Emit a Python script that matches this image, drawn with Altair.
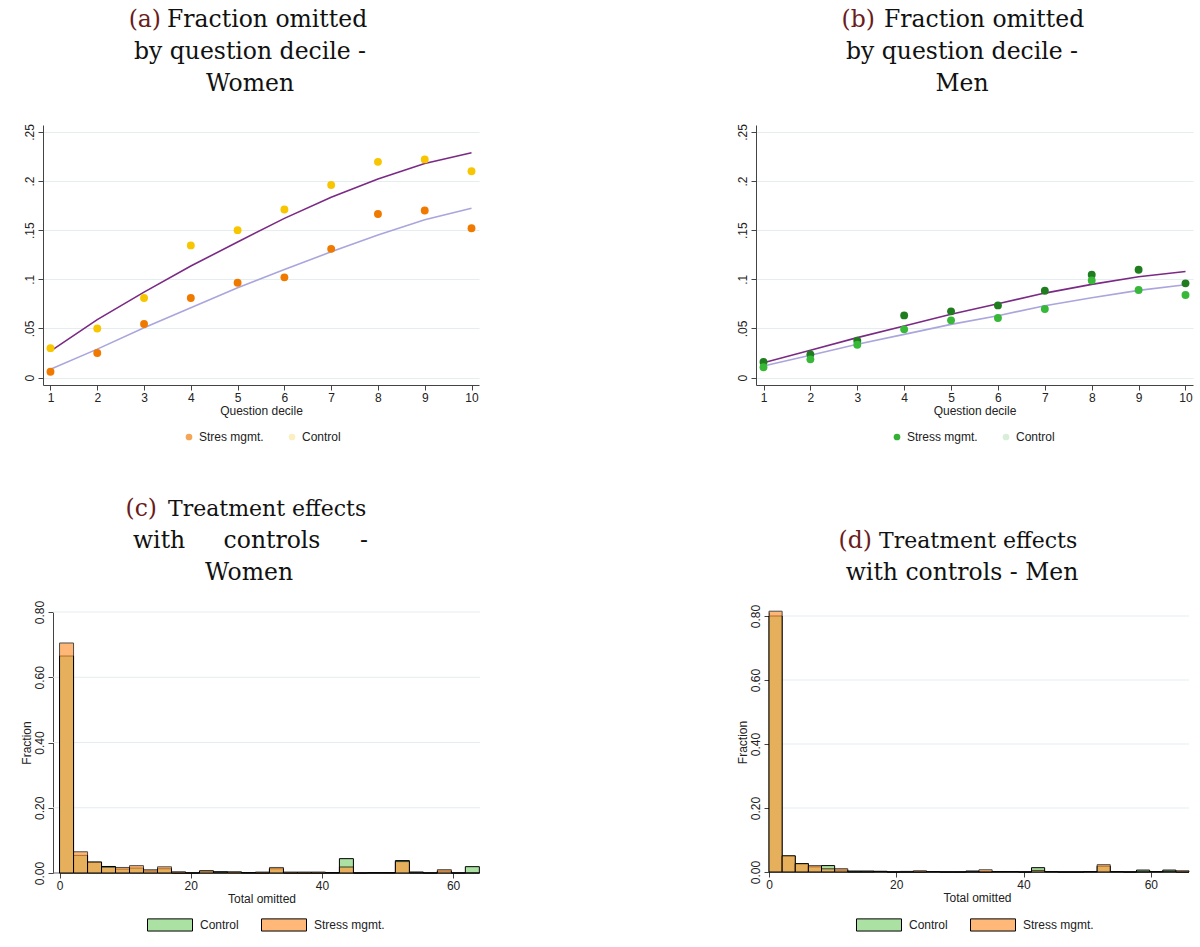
import altair as alt
import pandas as pd

# ---------------- data ----------------
deciles = [1, 2, 3, 4, 5, 6, 7, 8, 9, 10]

women_control = [0.030, 0.050, 0.081, 0.1345, 0.150, 0.171, 0.196, 0.2195, 0.222, 0.210]
women_stress = [0.006, 0.025, 0.0545, 0.081, 0.0965, 0.102, 0.131, 0.1665, 0.170, 0.152]
women_fit_control = [0.027, 0.059, 0.087, 0.1135, 0.138, 0.162, 0.1836, 0.202, 0.2178, 0.2287]
women_fit_stress = [0.0085, 0.029, 0.0508, 0.0711, 0.0915, 0.110, 0.128, 0.145, 0.1606, 0.1724]

men_control = [0.0159, 0.0237, 0.0376, 0.0633, 0.0674, 0.0735, 0.0884, 0.1047, 0.1098, 0.0959]
men_stress = [0.0105, 0.0186, 0.0335, 0.0491, 0.0583, 0.0606, 0.0698, 0.0989, 0.0891, 0.084]
men_fit_control = [0.0152, 0.0278, 0.0407, 0.0525, 0.0644, 0.0752, 0.086, 0.0949, 0.1026, 0.108]
men_fit_stress = [0.0119, 0.0227, 0.0339, 0.044, 0.0542, 0.063, 0.0732, 0.0813, 0.0888, 0.0945]

# histograms: fraction per bin
women_hist_max, women_hist_bins = 64, 30
women_hist_control = [0.665, 0.054, 0.033, 0.020, 0.012, 0.015, 0.006, 0.013, 0.0, 0.0,
                      0.006, 0.004, 0.002, 0.001, 0.0, 0.013, 0.0, 0.0, 0.0, 0.001,
                      0.044, 0.0, 0.001, 0.001, 0.038, 0.003, 0.0, 0.006, 0.0, 0.0194]
women_hist_stress = [0.705, 0.065, 0.034, 0.018, 0.017, 0.0225, 0.010, 0.019, 0.004, 0.0,
                     0.007, 0.002, 0.004, 0.0, 0.003, 0.017, 0.003, 0.003, 0.003, 0.0,
                     0.0184, 0.0, 0.0, 0.0, 0.035, 0.0, 0.0, 0.0102, 0.0, 0.0]

men_hist_max, men_hist_bins = 66, 32
men_hist_control = [0.80, 0.050, 0.026, 0.016, 0.020, 0.006, 0.003, 0.003, 0.002, 0.0,
                    0.0, 0.0, 0.001, 0.0, 0.0, 0.003, 0.0, 0.001, 0.001, 0.0,
                    0.0135, 0.001, 0.0, 0.0, 0.001, 0.018, 0.001, 0.0, 0.006, 0.001,
                    0.006, 0.0]
men_hist_stress = [0.815, 0.051, 0.026, 0.020, 0.010, 0.0104, 0.0, 0.0, 0.002, 0.0,
                   0.002, 0.004, 0.001, 0.0, 0.0, 0.0, 0.007, 0.001, 0.001, 0.0,
                   0.005, 0.001, 0.0, 0.0, 0.001, 0.0229, 0.001, 0.0, 0.0, 0.001,
                   0.002, 0.004]

hist_y_ticks = [0, 0.2, 0.4, 0.6, 0.8]
hist_x_ticks = [0, 20, 40, 60]

# ---------------- style ----------------
SERIF = "DejaVu Serif"
SANS = "Liberation Sans"
TITLE_SIZE = 23.5
TITLE_RED = "#6b1c1c"
GRID = "#e4edef"
BLACK = "#111111"
AXIS = "#444444"


def title_layers(pieces):
    out = []
    for piece in pieces:
        text, x, y, align, color = piece[:5]
        size = piece[5] if len(piece) > 5 else TITLE_SIZE
        out.append(
            alt.Chart(pd.DataFrame({"t": [text]}))
            .mark_text(align=align, baseline="middle", font=SERIF,
                       fontSize=size, color=color)
            .encode(text="t:N", x=alt.value(x), y=alt.value(y))
        )
    return out


def scatter_panel(ctrl, stress, fit_c, fit_s, col_c, col_s, leg_labels, leg_colors,
                  pieces, w, h, leg_x):
    pts = pd.DataFrame({
        "decile": deciles * 2,
        "value": ctrl + stress,
        "group": ["Control"] * 10 + ["Stress"] * 10,
    })
    fits = pd.DataFrame({
        "decile": deciles * 2,
        "value": fit_c + fit_s,
        "group": ["Control"] * 10 + ["Stress"] * 10,
    })
    x = alt.X("decile:Q",
              scale=alt.Scale(domain=[0.84, 10.16], nice=False, zero=False),
              axis=alt.Axis(values=deciles, title="Question decile", grid=False,
                            format="d", titlePadding=2))
    y = alt.Y("value:Q",
              scale=alt.Scale(domain=[-0.0075, 0.257], nice=False, zero=False),
              axis=alt.Axis(values=[0, 0.05, 0.1, 0.15, 0.2, 0.25], title=None,
                            labelAngle=270, labelAlign="center", labelBaseline="bottom",
                            labelExpr="datum.value == 0 ? '0' : replace(format(datum.value, '.2~f'), '0.', '.')",
                            grid=True))
    base_f = alt.Chart(fits)
    line_c = base_f.transform_filter("datum.group == 'Control'").mark_line(
        color="#7a2a85", strokeWidth=1.6).encode(x=x, y=y)
    line_s = base_f.transform_filter("datum.group == 'Stress'").mark_line(
        color="#aaa5dc", strokeWidth=1.6).encode(x=x, y=y)
    base_p = alt.Chart(pts)
    pt_c = base_p.transform_filter("datum.group == 'Control'").mark_circle(
        color=col_c, size=62, opacity=1).encode(x=x, y=y)
    pt_s = base_p.transform_filter("datum.group == 'Stress'").mark_circle(
        color=col_s, size=62, opacity=1).encode(x=x, y=y)
    leg_df = pd.DataFrame({"lab": leg_labels})
    legend = alt.Chart(leg_df).transform_filter("false").mark_circle(size=45, opacity=1).encode(
        color=alt.Color("lab:N", scale=alt.Scale(domain=leg_labels, range=leg_colors),
                        legend=alt.Legend(title=None, orient="none", direction="horizontal",
                                          legendX=leg_x, legendY=306,
                                          symbolSize=45, labelFontSize=12, labelFont=SANS,
                                          columnPadding=22, labelOffset=4,
                                          symbolType="circle"))
    )
    return alt.layer(line_c, line_s, pt_c, pt_s, legend, *title_layers(pieces)).properties(
        width=w, height=h)


def hist_panel(ctrl, stress, hmax, nbins, xdom, ydom, pieces, w, h, inset, leg_x, tpad):
    bw = hmax / nbins
    starts = [i * bw for i in range(nbins)]
    ends = [(i + 1) * bw for i in range(nbins)]
    df = pd.DataFrame({
        "start": starts * 2,
        "end": ends * 2,
        "frac": ctrl + stress,
        "group": ["Control"] * nbins + ["Stress mgmt."] * nbins,
    })
    x = alt.X("start:Q", scale=alt.Scale(domain=xdom, nice=False, zero=False),
              axis=alt.Axis(values=hist_x_ticks, title="Total omitted", grid=False,
                            domain=False, titlePadding=2))
    y = alt.Y("frac:Q", scale=alt.Scale(domain=ydom, nice=False),
              axis=alt.Axis(values=hist_y_ticks, title="Fraction", format=".2f",
                            labelAngle=270, labelAlign="center", labelBaseline="bottom",
                            grid=False, titlePadding=tpad, offset=-inset))
    grid_df = pd.DataFrame({"g": hist_y_ticks[1:]})
    grid = alt.Chart(grid_df).mark_rule(color=GRID, strokeWidth=1).encode(
        y=alt.Y("g:Q", scale=alt.Scale(domain=ydom, nice=False)),
        x=alt.value(inset), x2=alt.value(w))
    baseline = alt.Chart(pd.DataFrame({"g": [0]})).mark_rule(color="#666666", strokeWidth=1).encode(
        y=alt.Y("g:Q", scale=alt.Scale(domain=ydom, nice=False)),
        x=alt.value(inset), x2=alt.value(w))
    base = alt.Chart(df)
    g = base.transform_filter("datum.group == 'Control'").mark_rect(
        color="#abe2a3", stroke="black", strokeWidth=1).encode(
        x=x, x2="end:Q", y=y, y2=alt.datum(0))
    o = base.transform_filter("datum.group == 'Stress mgmt.'").mark_rect(
        color="#ff9a3e", opacity=0.7, stroke="black", strokeWidth=1).encode(
        x=x, x2="end:Q", y=y, y2=alt.datum(0))
    labs = ["Control", "Stress mgmt."]
    legend = alt.Chart(pd.DataFrame({"lab": labs})).transform_filter("false").mark_point(
        filled=True, opacity=1).encode(
        color=alt.Color("lab:N", scale=alt.Scale(domain=labs, range=["#abe2a3", "#ffb878"]),
                        legend=alt.Legend(title=None, orient="none", direction="horizontal",
                                          legendX=leg_x, legendY=289.5,
                                          symbolType="M-1,-0.27H1V0.27H-1Z", symbolSize=2025,
                                          symbolStrokeColor="black", symbolStrokeWidth=1,
                                          labelFontSize=12, labelFont=SANS, columnPadding=20,
                                          labelOffset=7))
    )
    return alt.layer(grid, baseline, g, o, legend, *title_layers(pieces)).properties(
        width=w, height=h)


panel_a = scatter_panel(
    women_control, women_stress, women_fit_control, women_fit_stress,
    "#f7c600", "#f07a00", ["Stres mgmt.", "Control"], ["#f4a556", "#fbefc2"],
    [("(a)", 118, -105, "right", TITLE_RED),
     ("Fraction omitted", 124, -105, "left", BLACK),
     ("by question decile -", 207, -73, "center", BLACK),
     ("Women", 207, -41, "center", BLACK)],
    436, 260, 140)

panel_b = scatter_panel(
    men_control, men_stress, men_fit_control, men_fit_stress,
    "#1f7d1f", "#38b838", ["Stress mgmt.", "Control"], ["#35b035", "#d9eed9"],
    [("(b)", 119, -105, "right", TITLE_RED),
     ("Fraction omitted", 128, -105, "left", BLACK),
     ("by question decile -", 206, -73, "center", BLACK),
     ("Men", 206, -41, "center", BLACK)],
    437, 260, 135)

# panel (c): plot area begins 10 px left of its y axis (axis moved inward)
panel_c = hist_panel(
    women_hist_control, women_hist_stress, women_hist_max, women_hist_bins,
    [-2.525, 64.1], [0, 0.8],
    [("(c)", 114, -103, "right", TITLE_RED),
     ("Treatment effects", 125, -103, "left", BLACK, 22),
     ("with", 90, -71, "left", BLACK),
     ("controls", 229, -71, "center", BLACK),
     ("-", 325, -71, "right", BLACK),
     ("Women", 206, -39, "center", BLACK)],
    437, 261, 10, 104, 0)

# panel (d): plot area begins 4 px left of its y axis
panel_d = hist_panel(
    men_hist_control, men_hist_stress, men_hist_max, men_hist_bins,
    [-0.629, 66], [0, 0.8125],
    [("(d)", 107, -71, "right", TITLE_RED),
     ("Treatment effects", 114, -71, "left", BLACK, 22),
     ("with controls - Men", 197, -39, "center", BLACK)],
    424, 260, 4, 91, 0)

chart = (
    alt.concat(panel_a, panel_b, panel_c, panel_d, columns=2,
               align=alt.RowColLayoutAlign(row="all", column="none"),
               spacing=alt.RowColnumber(row=50, column=255))
    .resolve_scale(color="independent", x="independent", y="independent")
    .resolve_legend(color="independent")
    .properties(padding={"left": 20, "top": 8, "right": 5, "bottom": 0})
    .configure_view(stroke=None)
    .configure_axis(labelFont=SANS, titleFont=SANS, labelFontSize=12, titleFontSize=12,
                    labelColor="#222222", titleColor="#222222", titleFontWeight="normal",
                    domainColor=AXIS, tickColor=AXIS, tickSize=5,
                    gridColor=GRID, gridWidth=1, labelPadding=2)
    .configure_legend(labelColor="#222222")
)

chart.save("out.html", embed_options={"renderer": "svg", "actions": False})
